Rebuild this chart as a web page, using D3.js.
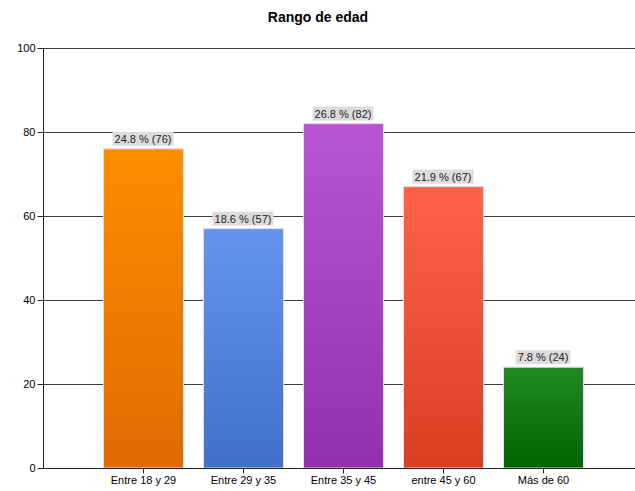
<!DOCTYPE html>
<html><head><meta charset="utf-8">
<script src="https://cdn.jsdelivr.net/npm/d3@7"></script>
<style>body{margin:0;background:#fff}svg{display:block;font-family:Arial,"Liberation Sans",sans-serif}</style>
</head><body><svg id="c" width="635" height="491"></svg>
<script>
const categories = ["Entre 18 y 29","Entre 29 y 35","Entre 35 y 45","entre 45 y 60","Más de 60"];
const counts = [76,57,82,67,24];
const percents = [24.8,18.6,26.8,21.9,7.8];
const topColors = ["#FF8C00","#6495ED","#BA55D3","#FF6347","#228B22"];
const bottomColors = ["#E06A00","#4270C8","#9430AE","#DC3E22","#006400"];
const yTicks = [0,20,40,60,80,100];

const svg = d3.select("#c");
const x = d3.scaleLinear().domain([0,6]).range([43,643]);
const y = d3.scaleLinear().domain([0,100]).range([468,48]);

const defs = svg.append("defs");
categories.forEach((c,i)=>{
  const g = defs.append("linearGradient").attr("id","g"+i).attr("x1",0).attr("y1",0).attr("x2",0).attr("y2",1);
  g.append("stop").attr("offset","0%").attr("stop-color",topColors[i]);
  g.append("stop").attr("offset","100%").attr("stop-color",bottomColors[i]);
});

svg.append("text").attr("x",318).attr("y",22).attr("text-anchor","middle")
  .attr("font-size",14).attr("font-weight","bold").text("Rango de edad");

// gridlines
svg.append("g").selectAll("line").data(yTicks.filter(d=>d>0)).join("line")
  .attr("x1",43).attr("x2",635).attr("y1",d=>Math.round(y(d))+0.5).attr("y2",d=>Math.round(y(d))+0.5)
  .attr("stroke","#404040").attr("stroke-width",1);

// bars
const bw = 80;
svg.append("g").selectAll("rect").data(counts).join("rect")
  .attr("x",(d,i)=>x(i+1)-bw/2+0.5).attr("width",bw)
  .attr("y",d=>y(d)).attr("height",d=>y(0)-y(d))
  .attr("fill",(d,i)=>"url(#g"+i+")")
  .attr("stroke","#e0dcec").attr("stroke-width",1);

// labels
const lg = svg.append("g");
counts.forEach((d,i)=>{
  const txt = percents[i].toFixed(1)+" % ("+d+")";
  const cx = x(i+1);
  const t = lg.append("text").attr("x",cx).attr("y",y(d)-6).attr("text-anchor","middle")
    .attr("font-size",11).attr("fill","#222").text(txt);
  const bb = t.node().getBBox();
  lg.insert("rect","text").attr("x",bb.x-2).attr("y",y(d)-17).attr("width",bb.width+4).attr("height",14)
    .attr("fill","#dcdcdc");
});
lg.raise();

// y axis
const yAxis = d3.axisLeft(y).tickValues(yTicks).tickSize(6).tickPadding(2);
const ya = svg.append("g").attr("transform","translate(43.5,0)").call(yAxis);
ya.selectAll("text").attr("font-size",11).attr("fill","#000").attr("font-family","Arial,'Liberation Sans',sans-serif");
ya.selectAll("line,path").attr("stroke","#222");
ya.select(".domain").attr("d","M0,48V468");

// x axis
const xAxis = d3.axisBottom(x).tickValues([1,2,3,4,5]).tickFormat(d=>categories[d-1]).tickSize(5).tickPadding(3);
const xa = svg.append("g").attr("transform","translate(0,"+(y(0)+0.5)+")").call(xAxis);
xa.selectAll("text").attr("font-size",11).attr("fill","#000").attr("font-family","Arial,'Liberation Sans',sans-serif");
xa.selectAll("line,path").attr("stroke","#222");
xa.select(".domain").attr("d","M43,0H635");
</script></body></html>
